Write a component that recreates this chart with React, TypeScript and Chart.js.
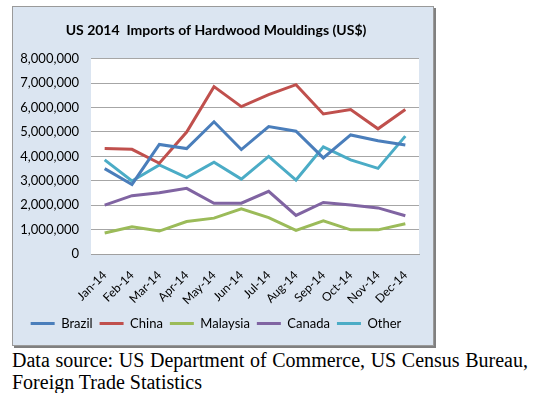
import React, { useEffect, useRef } from "react";
import { Chart, registerables } from "chart.js";

Chart.register(...registerables);

const months = ["Jan-14", "Feb-14", "Mar-14", "Apr-14", "May-14", "Jun-14", "Jul-14", "Aug-14", "Sep-14", "Oct-14", "Nov-14", "Dec-14"];
const brazil = [3500000, 2850000, 4490000, 4320000, 5420000, 4280000, 5220000, 5030000, 3940000, 4880000, 4640000, 4470000];
const china = [4320000, 4290000, 3720000, 5000000, 6860000, 6040000, 6530000, 6940000, 5740000, 5920000, 5130000, 5920000];
const malaysia = [860000, 1120000, 940000, 1330000, 1470000, 1850000, 1490000, 970000, 1360000, 990000, 990000, 1240000];
const canada = [2000000, 2390000, 2510000, 2690000, 2080000, 2080000, 2570000, 1580000, 2110000, 2010000, 1890000, 1570000];
const other = [3860000, 2990000, 3650000, 3130000, 3760000, 3070000, 4000000, 3030000, 4390000, 3860000, 3510000, 4830000];
const yTicks = [0, 1000000, 2000000, 3000000, 4000000, 5000000, 6000000, 7000000, 8000000];

const seriesNames = ["Brazil", "China", "Malaysia", "Canada", "Other"];
const seriesData = [brazil, china, malaysia, canada, other];
const seriesColors = ["#4a7ebb", "#c0504d", "#9bbb59", "#8064a2", "#4bacc6"];

const FONT = "Lato, 'Noto Sans', sans-serif";

const plotBg = {
  id: "plotBg",
  beforeDraw(chart: any) {
    const { ctx, chartArea } = chart;
    if (!chartArea) return;
    ctx.save();
    ctx.fillStyle = "#ffffff";
    ctx.fillRect(chartArea.left, chartArea.top, chartArea.right - chartArea.left, chartArea.bottom - chartArea.top);
    ctx.restore();
  },
};

export default function App() {
  const ref = useRef<HTMLCanvasElement>(null);

  useEffect(() => {
    if (!ref.current) return;
    const chart = new Chart(ref.current, {
      type: "line",
      data: {
        labels: months,
        datasets: seriesNames.map((name, i) => ({
          label: name,
          data: seriesData[i],
          borderColor: seriesColors[i],
          backgroundColor: seriesColors[i],
          borderWidth: 3,
          pointRadius: 0,
          tension: 0,
          fill: false,
        })),
      },
      options: {
        responsive: false,
        animation: false,
        layout: { padding: { left: 0, right: 14, top: 0, bottom: 5 } },
        plugins: {
          title: {
            display: true,
            text: "US 2014  Imports of Hardwood Mouldings (US$)",
            color: "#000",
            font: { family: FONT, size: 14, weight: "bold" },
            padding: { top: 15, bottom: 20 },
          },
          legend: {
            position: "bottom",
            labels: {
              color: "#000",
              font: { family: FONT, size: 13 },
              usePointStyle: true,
              pointStyle: "line",
              pointStyleWidth: 24,
              boxHeight: 13,
              padding: 7,
            },
          },
          tooltip: { enabled: false },
        },
        scales: {
          x: {
            offset: true,
            grid: { display: false },
            border: { color: "#a0a0a0" },
            ticks: {
              color: "#000",
              font: { family: FONT, size: 12 },
              maxRotation: 45,
              minRotation: 45,
              padding: 6,
            },
            afterFit(scale: any) {
              scale.height = 56;
            },
          },
          y: {
            min: 0,
            max: 8000000,
            afterBuildTicks(scale: any) {
              scale.ticks = yTicks.map((v) => ({ value: v }));
            },
            grid: { color: "#a6a6a6", drawTicks: false },
            border: { display: false },
            ticks: {
              color: "#000",
              font: { family: FONT, size: 13 },
              padding: 12,
              callback: (v: any) => Number(v).toLocaleString("en-US"),
            },
            afterFit(scale: any) {
              scale.width = 78;
            },
          },
        },
      },
      plugins: [plotBg],
    });
    return () => chart.destroy();
  }, []);

  return (
    <div>
      <div
        style={{
          position: "absolute",
          left: 12,
          top: 6,
          width: 420,
          height: 338,
          background: "#dbe5f1",
          border: "1px solid #9a9a9a",
          boxShadow: "2px 2px 0 #808080",
        }}
      >
        <canvas ref={ref} width={420} height={338} style={{ display: "block" }} />
      </div>
      <div
        style={{
          position: "absolute",
          left: 12,
          top: 349,
          width: 516,
          fontFamily: "'Liberation Serif', 'Times New Roman', serif",
          fontSize: 20,
          lineHeight: "22px",
          textAlign: "justify",
          color: "#000",
        }}
      >
        Data source: US Department of Commerce, US Census Bureau, Foreign Trade Statistics
      </div>
    </div>
  );
}
